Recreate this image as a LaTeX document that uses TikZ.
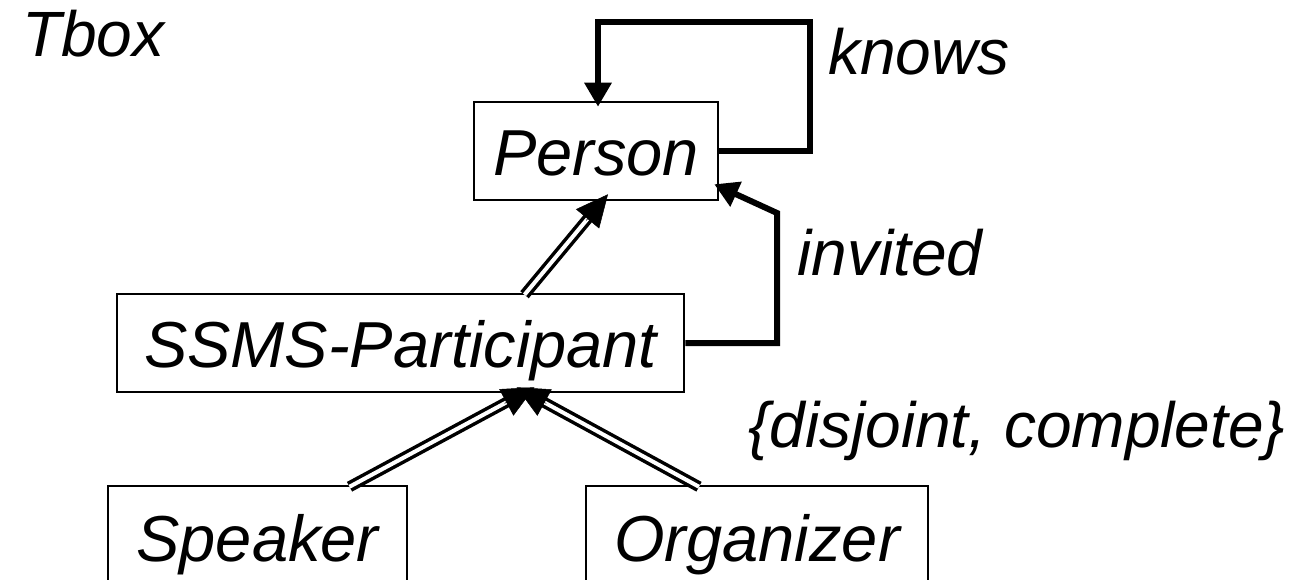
\documentclass[tikz,border=0pt]{standalone}
\usepackage{fontspec}
\setmainfont{Liberation Sans}
\usetikzlibrary{arrows.meta,calc}

\tikzset{
  lbl/.style={font=\itshape\fontsize{64}{70}\selectfont, inner sep=0pt, anchor=base west},
  cls/.style={draw, line width=2.5pt, font=\itshape\fontsize{65}{70}\selectfont,
              inner sep=0pt, text height=49pt, text depth=0pt},
  assoc/.style={line width=6pt, -{Triangle[length=24pt,width=26pt]}},
  genline/.style={double, double distance=4pt, line width=3.5pt, shorten >=26pt},
  genhead/.style={line width=0.5pt, -{Triangle[length=32pt,width=30pt]}},
}

\begin{document}
\begin{tikzpicture}[x=1pt, y=-1pt]
  \useasboundingbox (0,0) rectangle (1290,580);

  % classes
  \node[cls, minimum width=244pt, minimum height=98pt]  (person)    at (596,151)   {Person};
  \node[cls, minimum width=567pt, minimum height=98pt]  (ssms)      at (400.5,343) {SSMS-Participant};
  \node[cls, minimum width=299pt, minimum height=102pt] (speaker)   at (257.5,537) {Speaker};
  \node[cls, minimum width=342pt, minimum height=102pt] (organizer) at (757,537)   {Organizer};

  % free labels
  \node[lbl] (tbox)    at (22,57)   {Tbox};
  \node[lbl] (knows)   at (828,75)  {knows};
  \node[lbl] (invited) at (797,275) {invited};
  \node[lbl] (constr)  at (748,447) {\{disjoint, complete\}};

  % knows: self association on Person
  \draw[assoc] (person.east) -| (810,22) -| ($(person.north)+(2,6)$);

  % invited: SSMS-Participant to Person
  \draw[assoc] (ssms.east) -| (777,213) -- ($(person.south east)+(-5,-17)$);

  % generalisations
  \coordinate (g1s) at ($(ssms.north)+(124,2)$);
  \coordinate (g1t) at ($(person.south)+(12,-7)$);
  \draw[genline] (g1s) -- (g1t);
  \draw[genhead] ($(g1t)!34pt!(g1s)$) -- (g1t);

  \coordinate (g2s) at ($(speaker.north)+(92,2)$);
  \coordinate (g2t) at ($(ssms.south)+(134,-6)$);
  \draw[genline] (g2s) -- (g2t);
  \draw[genhead] ($(g2t)!34pt!(g2s)$) -- (g2t);

  \coordinate (g3s) at ($(organizer.north)+(-58,2)$);
  \coordinate (g3t) at ($(ssms.south)+(116,-6)$);
  \draw[genline] (g3s) -- (g3t);
  \draw[genhead] ($(g3t)!34pt!(g3s)$) -- (g3t);
\end{tikzpicture}
\end{document}
